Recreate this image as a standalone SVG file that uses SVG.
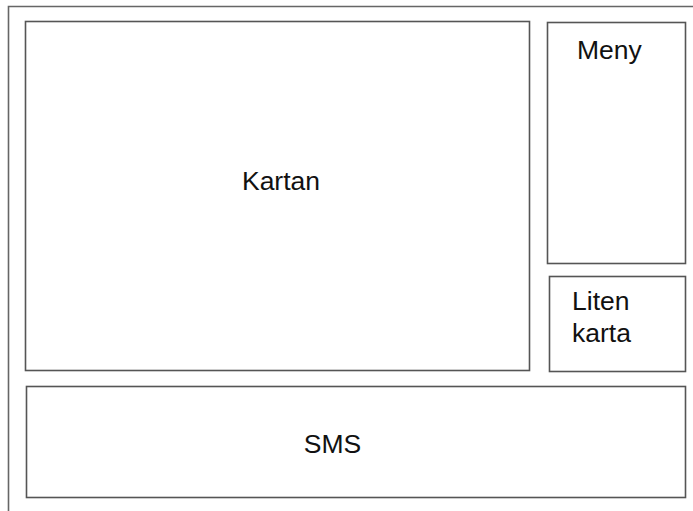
<svg xmlns="http://www.w3.org/2000/svg" width="693" height="511" viewBox="0 0 693 511">
<style>
.box{fill:#fff;stroke:#555;stroke-width:1.6}
.frame{fill:none;stroke:#666;stroke-width:1.6}
text{font-family:"Liberation Sans",Arial,sans-serif;font-size:26.5px;fill:#111}
</style>
<rect width="693" height="511" fill="#fff"/>
<path class="frame" d="M8.5,511 V6.5 H693"/>
<g id="kartan"><rect class="box" x="25.5" y="21.5" width="504" height="349"/><text x="281" y="190" text-anchor="middle">Kartan</text></g>
<g id="meny"><rect class="box" x="547.5" y="22.5" width="138" height="241"/><text x="577" y="59">Meny</text></g>
<g id="liten-karta"><rect class="box" x="549.5" y="276.5" width="136" height="95"/><text x="572" y="310">Liten</text><text x="572" y="342">karta</text></g>
<g id="sms"><rect class="box" x="26.5" y="386.5" width="659" height="111"/><text x="332.5" y="453" text-anchor="middle">SMS</text></g>
<g id="connectors"/>
</svg>
